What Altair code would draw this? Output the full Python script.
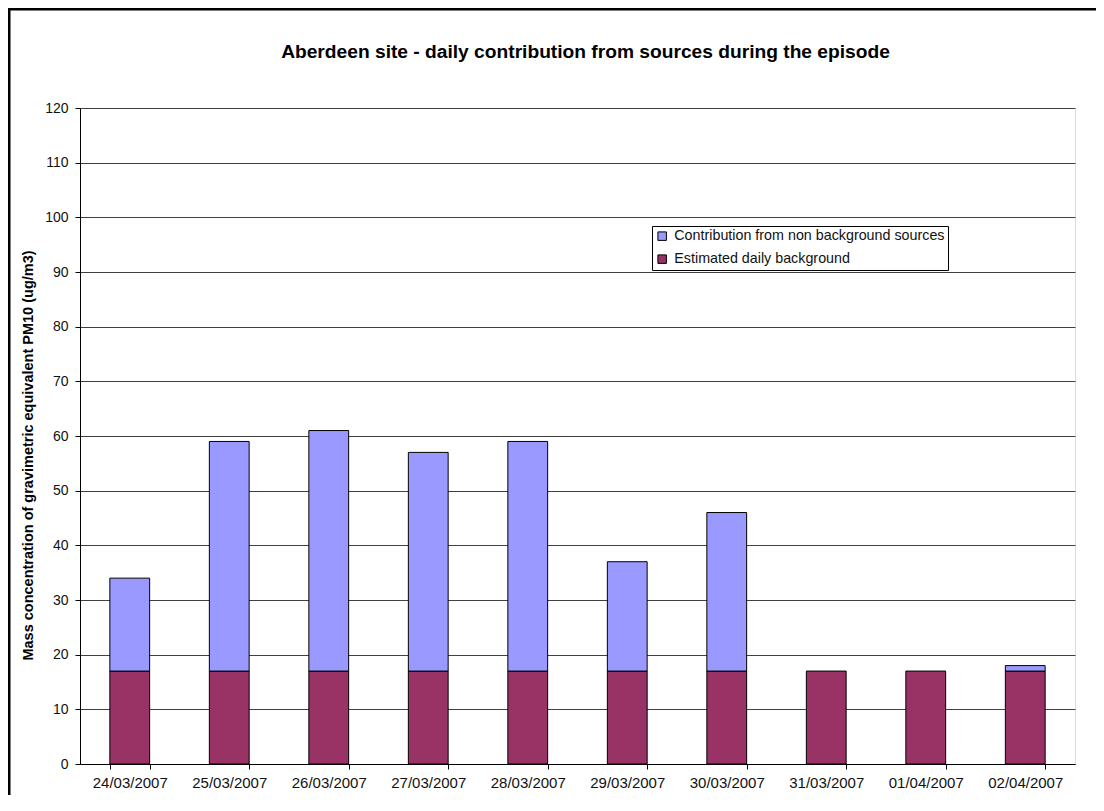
import altair as alt
import pandas as pd

dates = ["24/03/2007", "25/03/2007", "26/03/2007", "27/03/2007", "28/03/2007",
         "29/03/2007", "30/03/2007", "31/03/2007", "01/04/2007", "02/04/2007"]
background = [17, 17, 17, 17, 17, 17, 17, 17, 17, 17]
contribution = [17, 42, 44, 40, 42, 20, 29, 0, 0, 1]

S_CONT = "Contribution from non background sources"
S_BG = "Estimated daily background"

rows = []
for d, b, c in zip(dates, background, contribution):
    rows.append({"date": d, "series": S_BG, "value": b, "ord": 0})
    rows.append({"date": d, "series": S_CONT, "value": c, "ord": 1})
df = pd.DataFrame(rows)
df = df[df["value"] > 0]

FONT = "Liberation Sans"

bars = alt.Chart(df).mark_bar(stroke="black", strokeWidth=1).encode(
    x=alt.X("date:N", sort=dates, title=None,
            scale=alt.Scale(paddingInner=0.6, paddingOuter=0.3),
            axis=alt.Axis(labelAngle=0, tickBand="extent", tickSize=5,
                          domainColor="black", tickColor="black",
                          labelFontSize=15, labelColor="#111", labelPadding=6,
                          labelFont=FONT, grid=False)),
    y=alt.Y("value:Q", stack="zero", title="Mass concentration of gravimetric equivalent PM10 (ug/m3)",
            scale=alt.Scale(domain=[0, 120], nice=False),
            axis=alt.Axis(values=list(range(0, 121, 10)), tickSize=5,
                          domainColor="black", tickColor="black",
                          gridColor="#404040", gridWidth=1,
                          labelFontSize=14, labelColor="#111", labelPadding=7,
                          labelFont=FONT, titleFont=FONT, titleFontSize=14.5,
                          titleFontWeight="bold", titleColor="black",
                          titleX=-52, titleY=347, titleAlign="center",
                          titleBaseline="middle")),
    color=alt.Color("series:N",
                    scale=alt.Scale(domain=[S_CONT, S_BG], range=["#9999FF", "#993366"]),
                    legend=alt.Legend(title=None, orient="none", legendX=572, legendY=118,
                                      symbolType="square", symbolSize=72,
                                      symbolStrokeColor="black", symbolStrokeWidth=1,
                                      labelFontSize=14.3, labelFont=FONT, labelColor="#111",
                                      labelLimit=0,
                                      strokeColor="black", fillColor="white",
                                      padding=3, rowPadding=8, labelOffset=5)),
    order=alt.Order("ord:Q"),
)

frame_top = alt.Chart(pd.DataFrame({"k": [0]})).mark_rule(
    color="black", strokeWidth=3
).encode(x=alt.value(-72), x2=alt.value(1020), y=alt.value(-99))

frame_left = alt.Chart(pd.DataFrame({"k": [0]})).mark_rule(
    color="black", strokeWidth=3
).encode(x=alt.value(-71), y=alt.value(-100), y2=alt.value(700))

chart = alt.layer(bars, frame_top, frame_left).properties(
    width=995, height=656,
    padding={"left": 72, "top": 100, "right": 21, "bottom": 31},
    autosize="none",
    title=alt.TitleParams("Aberdeen site - daily contribution from sources during the episode",
                          font=FONT, fontSize=19.2, fontWeight="bold", color="black",
                          anchor="middle", frame="group", baseline="middle",
                          offset=-65, dx=8),
).configure_view(stroke="#c0c0c0").configure(background="white")

chart.save("out.html", embed_options={"renderer": "svg", "actions": False})
